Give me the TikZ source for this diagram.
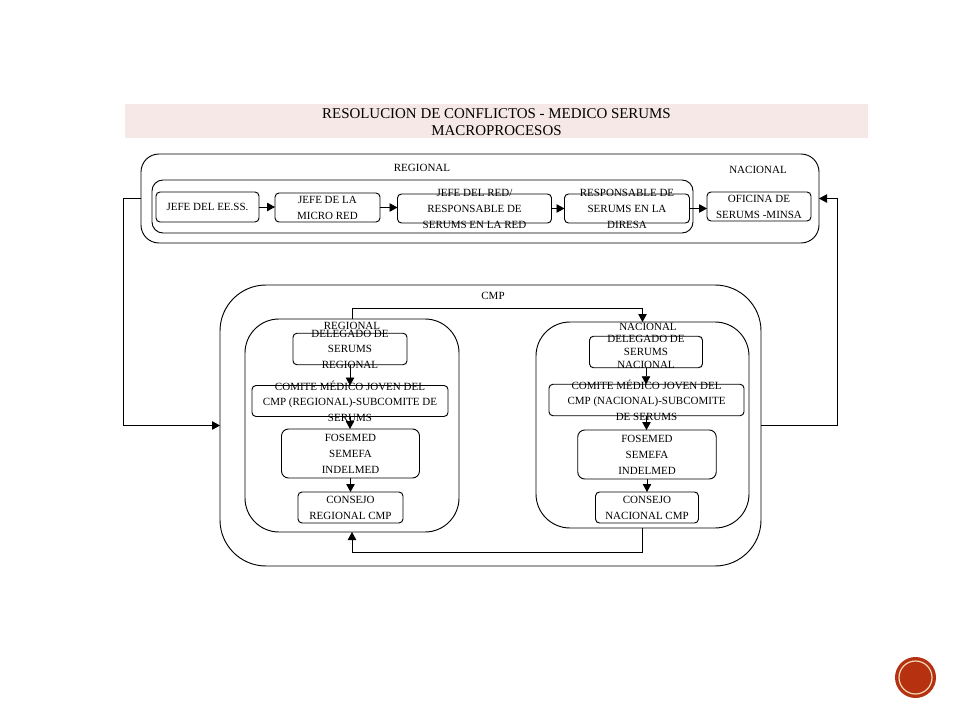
\documentclass[tikz,border=0pt]{standalone}
\usepackage{fontspec}
\setmainfont{Liberation Serif}
\usetikzlibrary{arrows.meta,calc}
\definecolor{band}{HTML}{F5E8E6}
\definecolor{seal}{HTML}{B5310F}
\definecolor{sealring}{HTML}{F6D9B8}
\newcommand{\bx}[7][4]{\node[boxshape,rounded corners=#1*0.75pt,minimum width=#5*0.75pt,minimum height=#6*0.75pt,label={[boxtext]center:{#7}}] (#2) at (#3,#4) {};}
\tikzset{
  x=0.75pt,y=-0.75pt,
  boxshape/.style={draw=black,line width=0.7pt,inner sep=0pt,outer sep=0pt},
  boxtext/.style={align=center,inner sep=0pt,font=\fontsize{8.25}{11.8}\selectfont,yshift=-0.2pt},
  plain/.style={align=center,inner sep=0pt,font=\fontsize{8.25}{11.8}\selectfont},
  arr/.style={draw=black,line width=0.7pt,-{Triangle[length=8pt*0.75,width=8.5pt*0.75]}},
}
\begin{document}
\begin{tikzpicture}
\useasboundingbox (0,0) rectangle (960,720);
\fill[white] (0,0) rectangle (960,720);
% title band
\node[fill=band,minimum width=743*0.75pt,minimum height=34*0.75pt,inner sep=0pt,outer sep=0pt] (title) at (496.5,121) {};
\node[align=center,inner sep=0pt,font=\fontsize{11.2}{12.9}\selectfont] (titletext) at (496.5,122.3) {RESOLUCION DE CONFLICTOS - MEDICO SERUMS\\MACROPROCESOS};
% containers
\bx[18]{reg}{480}{198.5}{678}{89}{}
\bx[11]{regin}{422.5}{206.5}{541}{53}{}
\bx[46]{cmp}{490.5}{425.5}{541}{281}{}
\bx[34]{li}{352}{425.5}{214}{213}{}
\bx[34]{ri}{642.5}{425}{213}{206}{}
% labels
\node[plain] (lreg) at (422,168) {REGIONAL};
\node[plain] (lnac) at (758,170) {NACIONAL};
\node[plain] (lcmp) at (493,296) {CMP};
\node[plain] (lli) at (352,326) {REGIONAL};
\node[plain] (lri) at (648,327) {NACIONAL};
% top row
\bx{a}{207.5}{207}{103}{30}{JEFE DEL EE.SS.}
\bx{b}{327.5}{207.5}{105}{29}{JEFE DE LA\\MICRO RED}
\bx{c}{474.5}{208.5}{154}{29}{JEFE DEL RED/\\RESPONSABLE DE\\SERUMS EN LA RED}
\bx{d}{627}{208.5}{125}{29}{RESPONSABLE DE\\SERUMS EN LA\\DIRESA}
\bx{e}{759}{206.5}{104}{29}{OFICINA DE\\SERUMS -MINSA}
% left column
\bx{d1}{350}{349}{114}{31.5}{DELEGADO DE\\SERUMS\\REGIONAL}
\bx{d2}{350}{401}{196}{31}{COMITE MÉDICO JOVEN DEL\\CMP (REGIONAL)-SUBCOMITE DE\\SERUMS}
\bx[7]{d3}{350.5}{453.5}{138}{49}{FOSEMED\\SEMEFA\\INDELMED}
\bx{d4}{350.5}{507.5}{105}{31}{CONSEJO\\REGIONAL CMP}
% right column
\bx{n1}{646}{352}{113}{31.5}{DELEGADO DE\\[-2pt]SERUMS\\[-2pt]NACIONAL}
\bx{n2}{646.5}{400}{195}{31.5}{COMITE MÉDICO JOVEN DEL\\CMP (NACIONAL)-SUBCOMITE\\DE SERUMS}
\bx[7]{n3}{647}{454.5}{138.5}{49}{FOSEMED\\SEMEFA\\INDELMED}
\bx{n4}{647}{507.5}{103}{31}{CONSEJO\\NACIONAL CMP}
% connectors
\draw[arr] (a.east) -- (a.east -| b.west);
\draw[arr] (b.east) -- (b.east -| c.west);
\draw[arr] (c.east) -- (c.east -| d.west);
\draw[arr] (d.east) -- (d.east -| e.west);
\draw[arr] (d1.south) -- (d1.south |- d2.north);
\draw[arr] (d2.south) -- (d2.south |- d3.north);
\draw[arr] (d3.south) -- (d3.south |- d4.north);
\draw[arr] (n1.south) -- (n1.south |- n2.north);
\draw[arr] (n2.south) -- (n2.south |- n3.north);
\draw[arr] (n3.south) -- (n3.south |- n4.north);
\draw[arr] (li.north) -- (352,308) -- (642.5,308) -- (ri.north);
\draw[arr] (ri.south) -- (642.5,552) -- (352,552) -- (li.south);
\draw[arr] (reg.west) -- (123,198.5) -- (123,425.5) -- (cmp.west);
\draw[arr] (cmp.east) -- (837,425.5) -- (837,198.5) -- (reg.east);
% seal
\fill[seal] (915.5,677.5) circle (20.5);
\draw[sealring,line width=0.9pt] (915.5,677.5) circle (16.5);
\end{tikzpicture}
\end{document}
